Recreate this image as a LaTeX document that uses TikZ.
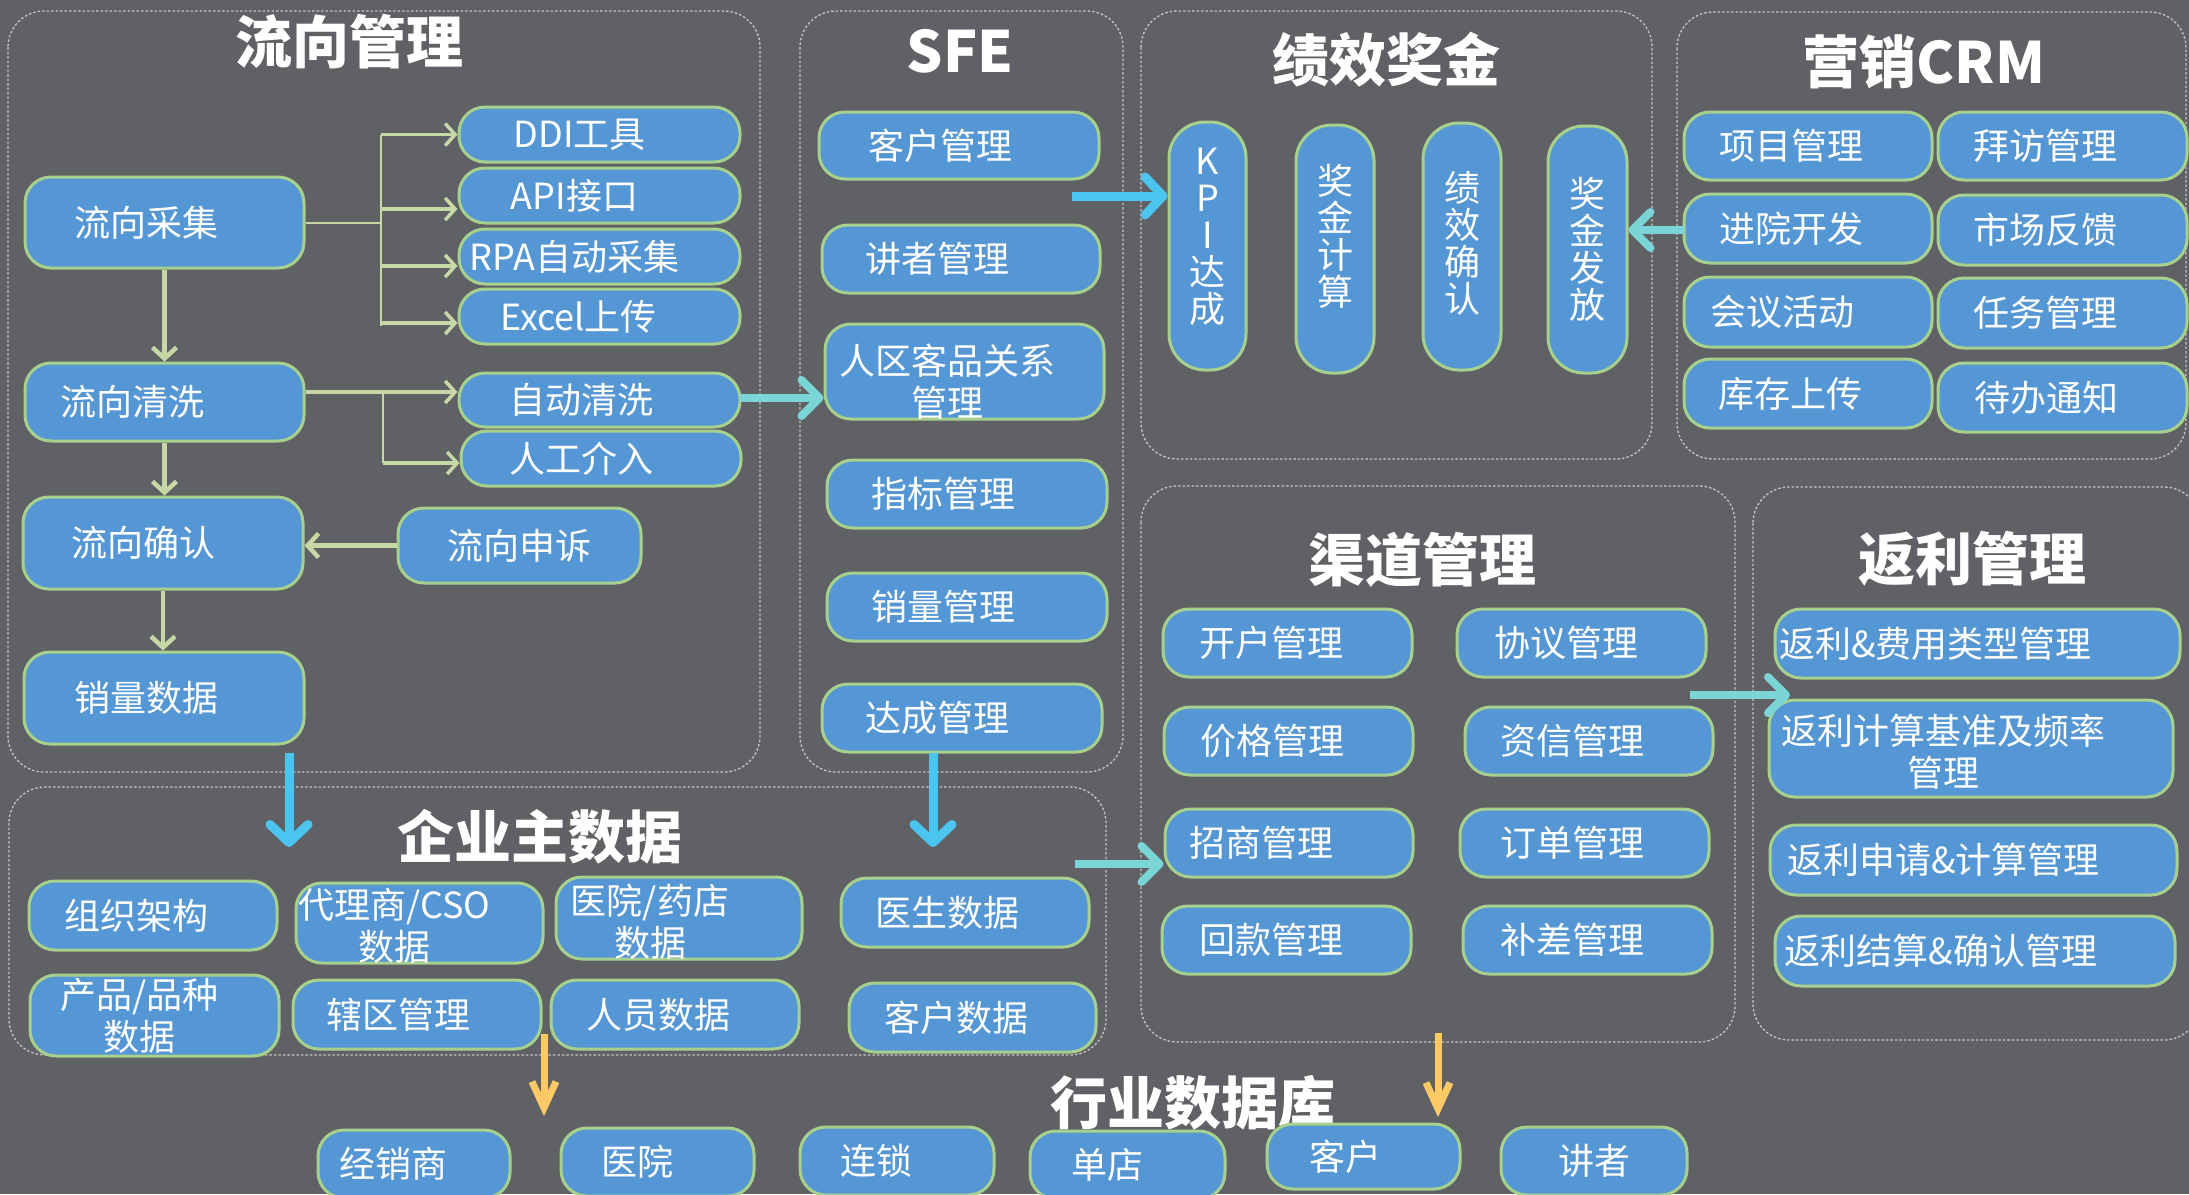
\documentclass[tikz,border=0pt]{standalone}
\usepackage{fontspec}
\setmainfont{Noto Sans CJK SC}
\usetikzlibrary{arrows.meta}
\definecolor{bgc}{HTML}{606165}
\definecolor{boxfill}{HTML}{5597D4}
\definecolor{boxline}{HTML}{A8D08D}
\definecolor{panelc}{HTML}{C4C4C4}
\definecolor{gcol}{HTML}{C5D8A6}
\definecolor{bcol}{HTML}{4BC4F0}
\definecolor{tcol}{HTML}{7BD4D5}
\definecolor{ycol}{HTML}{FFCA66}
\tikzset{
  panel/.style={draw=panelc, line width=1.3pt, dash pattern=on 2.5pt off 2pt, rounded corners=36pt},
  box/.style={draw=boxline, fill=boxfill, line width=3pt, rounded corners=26pt, inner sep=0pt},
  lbl/.style={text=white, font=\fontsize{36}{42}\selectfont, align=center, inner sep=0pt},
  vlbl/.style={font=\fontsize{36}{37}\selectfont},
  ttl/.style={text=white, font=\fontsize{57}{60}\selectfont\bfseries, inner sep=0pt},
  garr/.style={draw=gcol, line width=4.5pt, -{Straight Barb[length=11pt,width=24pt]}},
  garr2/.style={draw=gcol, line width=3.5pt, -{Straight Barb[length=10pt,width=22pt]}},
  gthin/.style={draw=gcol, line width=2pt},
  barr/.style={draw=bcol, line width=9pt, -{Straight Barb[length=18pt,width=38pt,round]}},
  tarr/.style={draw=tcol, line width=8pt, -{Straight Barb[length=18pt,width=36pt,round]}},
  yarr/.style={draw=ycol, line width=7pt, -{Straight Barb[length=26pt,width=24pt]}},
}
\newcommand\mybox[8][]{\node[box,minimum width=#5pt,minimum height=#6pt,#1,label={[lbl,#7]center:{#8}}] (#2) at (#3,#4) {};}
\begin{document}
\begin{tikzpicture}[x=1pt,y=-1pt]
\useasboundingbox (0,0) rectangle (2189,1194);
\clip (0,0) rectangle (2189,1194);
\fill[bgc] (0,0) rectangle (2189,1194);
% panels
\draw[panel] (8,11) rectangle (760,772);
\draw[panel] (800,11) rectangle (1123,772);
\draw[panel] (1141,11) rectangle (1652,459);
\draw[panel] (1677,12) rectangle (2186,459);
\draw[panel] (1141,486) rectangle (1735,1042);
\draw[panel] (1753,487) rectangle (2200,1040);
\draw[panel] (9,787) rectangle (1106,1055);
% titles
\node[ttl] (t1) at (349,42) {流向管理};
\node[ttl] (t2) at (960,51) {SFE};
\node[ttl] (t3) at (1386,60) {绩效奖金};
\node[ttl] (t4) at (1924,62) {营销CRM};
\node[ttl] (t5) at (1422,560) {渠道管理};
\node[ttl] (t6) at (1972,559) {返利管理};
\node[ttl] (t7) at (540,837) {企业主数据};
\node[ttl] (t8) at (1193,1103) {行业数据库};
% flow management
\mybox{cj}{164.5}{222.5}{279}{91}{xshift=-18pt}{流向采集}
\mybox{qx}{164.5}{402}{279}{78}{xshift=-32pt}{流向清洗}
\mybox{qr}{163}{543}{280}{92}{xshift=-20pt}{流向确认}
\mybox{xl}{164}{698}{280}{92}{xshift=-18pt}{销量数据}
\mybox{ss}{519.5}{545.5}{243}{75}{}{流向申诉}
\mybox{ddi}{599.5}{134.5}{281}{55}{xshift=-20pt}{DDI工具}
\mybox{api}{599.5}{195.5}{281}{55}{xshift=-25pt}{API接口}
\mybox{rpa}{599.5}{256.5}{281}{55}{xshift=-25pt}{RPA自动采集}
\mybox{xls}{599.5}{316.5}{281}{55}{xshift=-21pt}{Excel上传}
\mybox{zd}{599.5}{400}{281}{54}{xshift=-18pt}{自动清洗}
\mybox{rg}{601}{458.5}{280}{55}{xshift=-20pt}{人工介入}
% SFE
\mybox{kh}{959}{145.5}{280}{67}{xshift=-19pt}{客户管理}
\mybox{jz}{961}{259}{278}{68}{xshift=-24pt}{讲者管理}
\mybox{rq}{964.5}{371.5}{279}{95}{xshift=-17pt,yshift=-10pt}{人区客品关系\\管理}
\mybox{zb}{967}{494}{280}{68}{xshift=-24pt}{指标管理}
\mybox{xlg}{967}{607}{280}{68}{xshift=-24pt}{销量管理}
\mybox{dc}{962}{718}{280}{68}{xshift=-25pt}{达成管理}
% performance bonus
\mybox[rounded corners=36pt]{kpi}{1207.5}{246}{77}{248}{vlbl,yshift=9pt}{K\\P\\I\\达\\成}
\mybox[rounded corners=36pt]{jj}{1335}{249}{78}{248}{vlbl,yshift=13pt}{奖\\金\\计\\算}
\mybox[rounded corners=36pt]{jq}{1462}{246.5}{78}{247}{vlbl,yshift=3pt}{绩\\效\\确\\认}
\mybox[rounded corners=36pt]{jf}{1587.5}{249.5}{79}{247}{vlbl}{奖\\金\\发\\放}
% CRM
\mybox{xm}{1808}{146}{248}{68}{xshift=-17pt}{项目管理}
\mybox{bf}{2062.5}{146}{249}{68}{xshift=-17pt}{拜访管理}
\mybox{jy}{1808}{228.5}{248}{69}{xshift=-17pt}{进院开发}
\mybox{sc}{2062.5}{230}{249}{70}{xshift=-17pt}{市场反馈}
\mybox{hy}{1808}{312}{248}{70}{xshift=-26pt}{会议活动}
\mybox{rw}{2062.5}{313}{249}{70}{xshift=-17pt}{任务管理}
\mybox{kc}{1808}{393.5}{248}{69}{xshift=-18pt}{库存上传}
\mybox{db}{2062.5}{397.5}{249}{69}{xshift=-16pt}{待办通知}
% channel
\mybox{kh2}{1287.5}{643}{249}{68}{xshift=-16pt}{开户管理}
\mybox{xy}{1581.5}{643}{249}{68}{xshift=-15pt}{协议管理}
\mybox{jg}{1288.5}{741}{249}{68}{xshift=-16pt}{价格管理}
\mybox{zx}{1589}{741}{248}{68}{xshift=-17pt}{资信管理}
\mybox{zs}{1289}{843}{248}{68}{xshift=-28pt}{招商管理}
\mybox{dd}{1584.5}{843}{249}{68}{xshift=-12pt}{订单管理}
\mybox{hk}{1286.5}{940}{249}{68}{xshift=-15pt}{回款管理}
\mybox{bc}{1587.5}{940}{249}{68}{xshift=-15pt}{补差管理}
% rebate
\mybox{fa}{1977.5}{643.5}{405}{69}{xshift=-42pt}{返利\&费用类型管理}
\mybox{fb}{1971}{748.5}{404}{97}{xshift=-28pt,yshift=-3pt}{返利计算基准及频率\\管理}
\mybox{fc}{1973.5}{860}{407}{70}{xshift=-30pt}{返利申请\&计算管理}
\mybox{fd}{1975}{951}{400}{70}{xshift=-34pt}{返利结算\&确认管理}
% master data
\mybox{zz}{153}{915.5}{248}{69}{xshift=-17pt}{组织架构}
\mybox{dl}{419.5}{923}{247}{80}{xshift=-25pt,yshift=-3pt}{代理商/CSO\\数据}
\mybox{yy}{679}{918}{246}{82}{xshift=-29pt,yshift=-4pt}{医院/药店\\数据}
\mybox{ys}{965}{912.5}{248}{69}{xshift=-18pt}{医生数据}
\mybox{cp}{154.5}{1015.5}{249}{81}{xshift=-15pt}{产品/品种\\数据}
\mybox{xq}{417}{1014.5}{248}{69}{xshift=-19pt}{辖区管理}
\mybox{ry}{675}{1014.5}{248}{69}{xshift=-17pt}{人员数据}
\mybox{khs}{972.5}{1017.5}{247}{69}{xshift=-16pt}{客户数据}
% industry database
\mybox{jx}{414}{1164}{192}{68}{xshift=-21pt}{经销商}
\mybox{yyb}{657.5}{1162}{193}{68}{xshift=-20pt}{医院}
\mybox{ls}{897}{1161}{194}{68}{xshift=-21pt}{连锁}
\mybox{ddb}{1127.5}{1165}{195}{68}{xshift=-20pt}{单店}
\mybox{khb}{1363.5}{1156.5}{193}{65}{xshift=-18pt}{客户}
\mybox{jzb}{1594}{1161}{186}{68}{}{讲者}
% green connectors
\coordinate (a1) at (381,134.5);
\coordinate (a2) at (381,209);
\coordinate (a3) at (381,266);
\coordinate (a4) at (381,323);
\coordinate (a5) at (381,326);
\draw[gthin] (cj.east) -- (cj.east -| a1);
\draw[gthin] (a1) -- (a5);
\draw[garr2] (a1) -- (a1 -| ddi.west);
\draw[garr2] (a2) -- (a2 -| api.west);
\draw[garr2] (a3) -- (a3 -| rpa.west);
\draw[garr2] (a4) -- (a4 -| xls.west);
\coordinate (c1) at (383,392);
\coordinate (c2) at (383,463);
\draw[garr2] (c1 -| qx.east) -- (c1 -| zd.west);
\draw[gthin] (c1) -- (c2);
\draw[garr2] (c2) -- (c2 -| rg.west);
\draw[garr] (cj.south) -- (cj.south |- qx.north);
\draw[garr] (qx.south) -- (qx.south |- qr.north);
\draw[garr] (qr.south) -- (qr.south |- xl.north);
\draw[garr] (ss.west) -- (ss.west -| qr.east);
% blue arrows
\coordinate (d1s) at (289,753); \coordinate (d1e) at (289,847);
\coordinate (d2s) at (933,753); \coordinate (d2e) at (933,847);
\draw[barr] (d1s) -- (d1e);
\draw[barr] (d2s) -- (d2e);
\coordinate (k1) at (1072,196);
\draw[barr] (k1) -- (k1 -| kpi.west);
% teal arrows
\coordinate (q1) at (740,398);
\draw[tarr] (q1) -- (q1 -| rq.west);
\coordinate (q2) at (1684,230);
\draw[tarr] (q2) -- (q2 -| jf.east);
\coordinate (q3) at (1075,864);
\draw[tarr] (q3) -- (q3 -| zs.west);
\coordinate (q4s) at (1690,695); \coordinate (q4e) at (1790,695);
\draw[tarr] (q4s) -- (q4e);
% yellow arrows
\coordinate (y1s) at (544,1034); \coordinate (y1e) at (544,1116);
\coordinate (y2s) at (1438,1033); \coordinate (y2e) at (1438,1117);
\draw[yarr] (y1s) -- (y1e);
\draw[yarr] (y2s) -- (y2e);
\end{tikzpicture}
\end{document}
